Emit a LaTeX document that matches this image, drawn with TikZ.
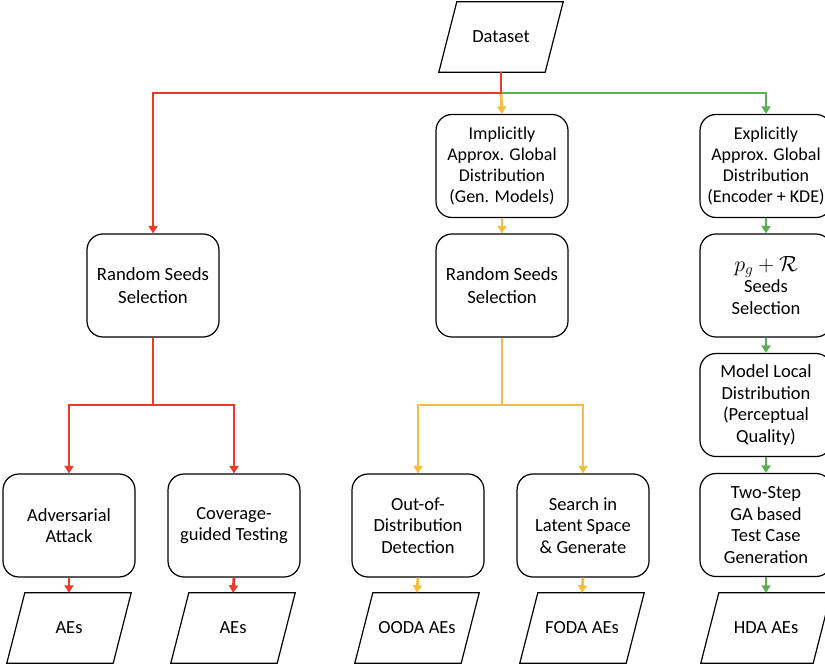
\documentclass[tikz,border=0pt]{standalone}
\usepackage{fix-cm}
\usepackage{fontspec}
\setmainfont{Carlito}
\usetikzlibrary{arrows.meta}
\definecolor{cred}{RGB}{234,58,40}
\definecolor{cyel}{RGB}{245,190,62}
\definecolor{cgrn}{RGB}{90,176,80}
\begin{document}
\begin{tikzpicture}[x=1pt,y=-1pt,
  every node/.style={font=\fontsize{18.5}{21.5}\selectfont, align=center, inner sep=0pt},
  bigtext/.style={font=\fontsize{18.7}{22.5}\selectfont},
  smalltext/.style={font=\fontsize{18}{21}\selectfont},
  procbox/.style={draw=black, line width=1.2pt, rounded corners=16pt, minimum width=132pt, minimum height=103pt},
  iobox/.style={minimum width=106pt, minimum height=70pt},
  conn/.style={line width=2.8pt, -{Triangle[width=9pt,length=7.5pt]}},
  plain/.style={line width=2.8pt}]
\useasboundingbox (0,0) rectangle (825,668);
% data nodes
\node[iobox] (ds) at (501,37) {Dataset};
\node[iobox] (ae1) at (69,628) {AEs};
\node[iobox] (ae2) at (233,628) {AEs};
\node[iobox] (ooda) at (417,628) {OODA AEs};
\node[iobox] (foda) at (582,628) {FODA AEs};
\node[iobox, minimum width=112pt] (hda) at (766,628) {HDA AEs};
\foreach \n in {ds,ae1,ae2,ooda,foda,hda}{
  \draw[line width=1.2pt] ([xshift=9pt]\n.north west) -- ([xshift=9pt]\n.north east)
     -- ([xshift=-9pt]\n.south east) -- ([xshift=-9pt]\n.south west) -- cycle;
}
% process nodes
\node[procbox, smalltext] (imp) at (502,166) {Implicitly\\Approx. Global\\Distribution\\(Gen. Models)};
\node[procbox, smalltext] (exp) at (766,166) {Explicitly\\Approx. Global\\Distribution\\(Encoder + KDE)};
\node[procbox, bigtext] (rs1) at (153,285.5) {Random Seeds\\Selection};
\node[procbox, bigtext] (rs2) at (502,285.5) {Random Seeds\\Selection};
\node[procbox] (pg) at (766,285.5) {{\fontsize{22}{22}\selectfont$p_g+\mathcal{R}$}\\Seeds\\Selection};
\node[procbox] (mld) at (766,405) {Model Local\\Distribution\\(Perceptual\\Quality)};
\node[procbox] (ts) at (766,525) {Two-Step\\GA based\\Test Case\\Generation};
\node[procbox] (aa) at (69,525.5) {Adversarial\\Attack};
\node[procbox] (cg) at (234,525.5) {Coverage-\\guided Testing};
\node[procbox] (ood) at (418,525.5) {Out-of-\\Distribution\\Detection};
\node[procbox] (sr) at (583,525.5) {Search in\\Latent Space\\\& Generate};
% junctions
\coordinate (j0) at (501,93);
\coordinate (j1) at (153,405);
\coordinate (j2) at (502,405);
% connectors
\draw[conn, cgrn] (j0) -| (exp.north);
\draw[conn, cyel] (j0) -- (imp.north);
\draw[conn, cred] (ds.south) -- (j0) -| (rs1.north);
\draw[conn, cyel] (imp.south) -- (rs2.north);
\draw[conn, cgrn] (exp.south) -- (pg.north);
\draw[conn, cgrn] (pg.south) -- (mld.north);
\draw[conn, cgrn] (mld.south) -- (ts.north);
\draw[conn, cgrn] (ts.south) -- (hda.north);
\draw[plain, cred] (rs1.south) -- (j1);
\draw[conn, cred] (j1) -| (aa.north);
\draw[conn, cred] (j1) -| (cg.north);
\draw[plain, cyel] (rs2.south) -- (j2);
\draw[conn, cyel] (j2) -| (ood.north);
\draw[conn, cyel] (j2) -| (sr.north);
\draw[conn, cred] (aa.south) -- (ae1.north);
\draw[conn, cred] (cg.south) -- (ae2.north);
\draw[conn, cyel] (ood.south) -- (ooda.north);
\draw[conn, cyel] (sr.south) -- (foda.north);
\end{tikzpicture}
\end{document}
